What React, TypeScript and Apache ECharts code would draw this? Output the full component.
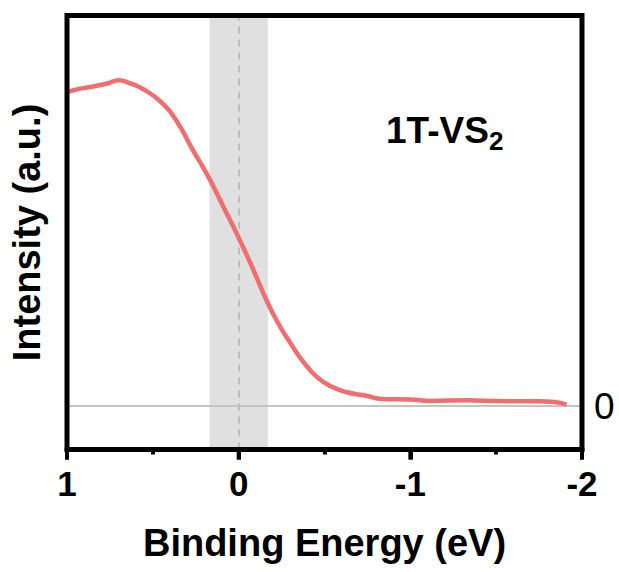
import React, { useEffect, useRef } from "react";
import * as echarts from "echarts";

// Binding energy (eV) and intensity (a.u.)
const energy = [0.99, 0.93, 0.84, 0.76, 0.7, 0.64, 0.55, 0.45, 0.36, 0.27, 0.18, 0.09, 0, -0.07, -0.17, -0.24, -0.3, -0.38, -0.46, -0.54, -0.63, -0.73, -0.83, -1.0, -1.12, -1.33, -1.52, -1.72, -1.84, -1.91];
const intensity = [0.7245, 0.731, 0.737, 0.744, 0.751, 0.745, 0.729, 0.7, 0.656, 0.592, 0.531, 0.46, 0.388, 0.328, 0.237, 0.184, 0.146, 0.1, 0.0656, 0.0449, 0.0318, 0.0249, 0.0166, 0.015, 0.012, 0.0133, 0.0115, 0.011, 0.0092, 0.0035];
// Shaded region around the Fermi level (eV)
const band = [0.17, -0.17];
const fermiLevel = 0;
const baseline = 0;
const xRange = [-2, 1];
const xMajorTicks = [1, 0, -1, -2];
const yRange = [-0.1, 0.9];
const yLabelValues = [0];

const FONT = "'Liberation Sans', Arial, Helvetica, sans-serif";

export default function App() {
  const ref = useRef<HTMLDivElement>(null);
  useEffect(() => {
    if (!ref.current) return;
    const chart = echarts.init(ref.current, null, { renderer: "svg" });
    const labelGraphics: any[] = [
      {
        id: "lbl-main",
        type: "text",
        x: 386,
        y: 130,
        z: 30,
        style: {
          text: "1T-VS",
          fontSize: 37,
          fontWeight: "bold",
          fontFamily: FONT,
          fill: "#000",
          align: "left",
          verticalAlign: "middle",
        },
      },
      {
        id: "lbl-sub",
        type: "text",
        x: 489,
        y: 141,
        z: 30,
        style: {
          text: "2",
          fontSize: 26,
          fontWeight: "bold",
          fontFamily: FONT,
          fill: "#000",
          align: "left",
          verticalAlign: "middle",
        },
      },
    ];
    const option: any = {
      animation: false,
      grid: {
        left: 66,
        right: 37,
        top: 15.5,
        bottom: 122.5,
        show: true,
        borderColor: "#000",
        borderWidth: 5,
        backgroundColor: "transparent",
        z: 20,
      },
      xAxis: {
        type: "value",
        min: xRange[0],
        max: xRange[1],
        interval: 1,
        inverse: true,
        position: "bottom",
        z: 21,
        axisLine: { show: true, onZero: false, lineStyle: { color: "#000", width: 5 } },
        axisTick: { show: true, inside: false, length: 10, lineStyle: { color: "#000", width: 4 } },
        minorTick: { show: true, splitNumber: 2, length: 5, lineStyle: { color: "#000", width: 4 } },
        splitLine: { show: false },
        axisLabel: {
          color: "#000",
          fontSize: 35,
          fontWeight: "bold",
          fontFamily: FONT,
          margin: 16,
          showMinLabel: true,
          showMaxLabel: true,
        },
        name: "Binding Energy (eV)",
        nameLocation: "middle",
        nameGap: 74,
        nameTextStyle: { color: "#000", fontSize: 38, fontWeight: "bold", fontFamily: FONT },
      },
      yAxis: [
        {
          type: "value",
          min: yRange[0],
          max: yRange[1],
          position: "left",
          axisLine: { show: false },
          axisTick: { show: false },
          axisLabel: { show: false },
          splitLine: { show: false },
          name: "Intensity (a.u.)",
          nameLocation: "middle",
          nameGap: 21,
          nameTextStyle: { color: "#000", fontSize: 38, fontWeight: "bold", fontFamily: FONT },
        },
        {
          type: "value",
          min: yRange[0],
          max: yRange[1],
          position: "right",
          axisLine: { show: false },
          axisTick: { show: false },
          splitLine: { show: false },
          axisLabel: {
            customValues: yLabelValues,
            color: "#000",
            fontSize: 37,
            fontFamily: FONT,
            margin: 12,
          },
        },
      ],
      series: [
        {
          type: "line",
          data: [],
          z: 1,
          markArea: {
            silent: true,
            itemStyle: { color: "#e0e0e0" },
            data: [[{ xAxis: band[0] }, { xAxis: band[1] }]],
          },
          markLine: {
            silent: true,
            z: 5,
            symbol: "none",
            label: { show: false },
            data: [
              { xAxis: fermiLevel, lineStyle: { color: "#bdbdbd", type: [7, 6], width: 2 } },
              { yAxis: baseline, lineStyle: { color: "#c4c4c4", type: "solid", width: 2 } },
            ],
          },
        },
        {
          type: "line",
          data: energy.map((e, i) => [e, intensity[i]]),
          smooth: 0.5,
          showSymbol: false,
          z: 10,
          lineStyle: { color: "#f26d6d", width: 4.5 },
        },
      ],
      graphic: labelGraphics,
    };
    chart.setOption(option);

    // Major tick marks, positioned through the x axis scale
    const axisY = chart.convertToPixel({ yAxisIndex: 0 }, yRange[0]) as number;
    const tickGraphics = xMajorTicks.map((v, i) => {
      const px = chart.convertToPixel({ xAxisIndex: 0 }, v) as number;
      return {
        id: "tick-" + i,
        type: "line",
        z: 25,
        shape: { x1: px, y1: axisY, x2: px, y2: axisY + 10 },
        style: { stroke: "#000", lineWidth: 4 },
        silent: true,
      };
    });
    chart.setOption({ graphic: [...labelGraphics, ...tickGraphics] });

    return () => chart.dispose();
  }, []);
  return (
    <div
      ref={ref}
      style={{ position: "fixed", left: 0, top: 0, width: 619, height: 572, background: "#fff" }}
    />
  );
}
